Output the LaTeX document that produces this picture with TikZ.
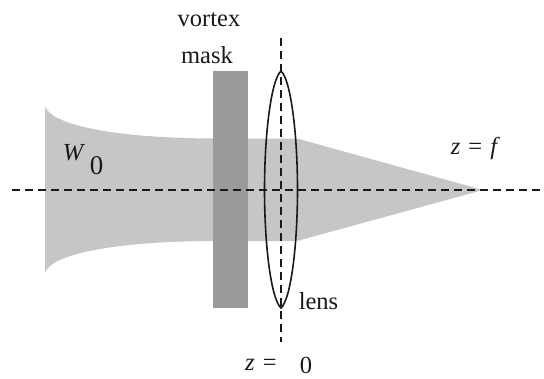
\documentclass[tikz,border=0pt]{standalone}
\usepackage{fontspec}
\setmainfont{Liberation Serif}
\definecolor{beamgray}{HTML}{C5C7C6}
\definecolor{maskgray}{HTML}{999B9A}
\tikzset{
  lbl/.style={inner sep=0pt,font=\fontsize{24.5}{26}\selectfont,text=black!90},
  axisline/.style={draw=black!90,line width=1.6pt,dash pattern=on 7.500pt off 5.500pt},
  lensline/.style={draw=black!90,line width=1.6pt}
}
\begin{document}
\begin{tikzpicture}[x=1pt,y=-1pt]
\useasboundingbox (0,0) rectangle (544,378);
% beam
\fill[beamgray] (45,106) .. controls (50,124) and (110,138) .. (213,138.5)
  -- (297,138.5) -- (483,190) -- (297,241) -- (213,241)
  .. controls (110,241.5) and (50,255) .. (45,273) -- cycle;
% mask
\fill[maskgray] (213,71) rectangle (248,308);
% axes
\coordinate (hl) at (12,190);
\coordinate (hr) at (544,190);
\coordinate (vt) at (281,38);
\coordinate (vb) at (281,342);
\draw[axisline] (hl) -- (hr);
\draw[axisline] (vt) -- (vb);
% lens
\draw[lensline] (281,71) .. controls (271,80) and (264.500,135) .. (264.500,189.500)
  .. controls (264.500,245) and (271,299) .. (281,308)
  .. controls (291,299) and (297.500,245) .. (297.500,189.500)
  .. controls (297.500,135) and (291,80) .. (281,71) -- cycle;
% labels
\node[lbl] (vortex) at (209,20) {vortex};
\node[lbl] (mask) at (207,55) {mask};
\node[lbl] (w) at (73,153) {\itshape W};
\node[lbl] (zero) at (96.500,166) {\fontsize{27}{28}\selectfont 0};
\node[lbl] (zf) at (474,148) {\itshape z\,\,\upshape=\,\,\itshape f};
\node[lbl] (lens) at (318.500,301) {lens};
\node[lbl] (zeq) at (261,365) {\itshape z\,\,\upshape=};
\node[lbl] (zval) at (306,365) {0};
\end{tikzpicture}
\end{document}
